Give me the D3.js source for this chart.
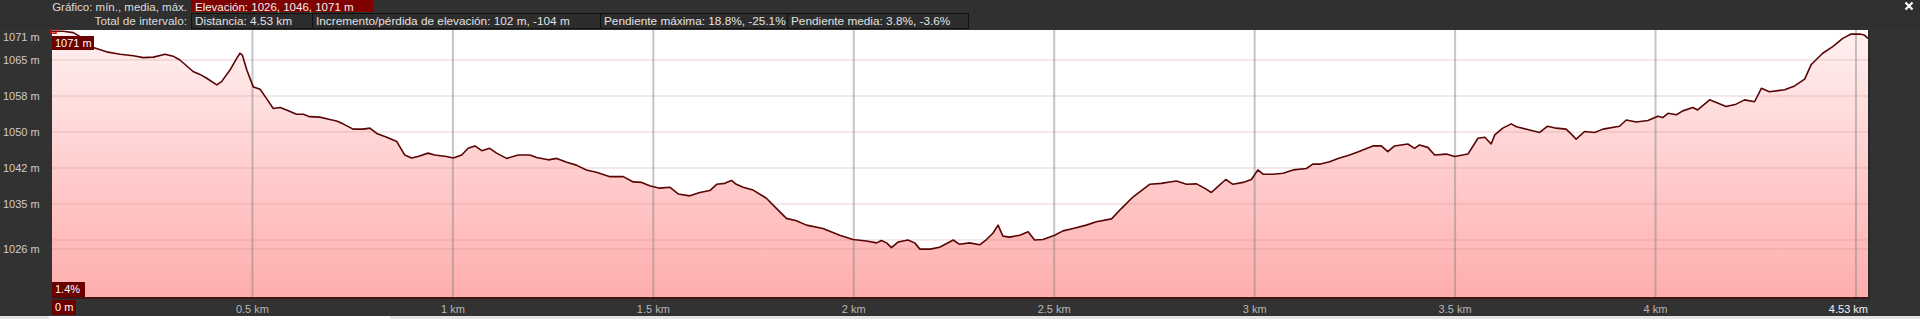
<!DOCTYPE html>
<html>
<head>
<meta charset="utf-8">
<script src="https://cdn.jsdelivr.net/npm/d3@7"></script>
<style>
  html, body { margin: 0; padding: 0; background: #323232; overflow: hidden; }
  svg { display: block; font-family: "Liberation Sans", Arial, sans-serif; }
</style>
</head>
<body>
<div id="chart"></div>
<script>
// ── Data ────────────────────────────────────────────────────────────────────
const distKm = [
  0, 0.028, 0.053, 0.078, 0.103, 0.136, 0.170, 0.203, 0.228, 0.253,
  0.282, 0.302, 0.319, 0.352, 0.369, 0.386, 0.411, 0.423, 0.444, 0.461,
  0.469, 0.475, 0.486, 0.502, 0.519, 0.535, 0.552, 0.569, 0.585, 0.610,
  0.627, 0.643, 0.668, 0.693, 0.710, 0.726, 0.751, 0.776, 0.793, 0.810,
  0.835, 0.860, 0.880, 0.897, 0.913, 0.938, 0.955, 0.984, 1.001, 1.022,
  1.038, 1.055, 1.072, 1.092, 1.109, 1.134, 1.163, 1.192, 1.209, 1.238,
  1.259, 1.284, 1.308, 1.333, 1.358, 1.392, 1.425, 1.450, 1.471, 1.491,
  1.516, 1.541, 1.562, 1.591, 1.616, 1.641, 1.658, 1.678, 1.695, 1.707,
  1.724, 1.749, 1.782, 1.807, 1.832, 1.857, 1.882, 1.923, 1.965, 1.998,
  2.032, 2.057, 2.069, 2.082, 2.094, 2.111, 2.135, 2.152, 2.165, 2.190,
  2.214, 2.239, 2.248, 2.264, 2.289, 2.314, 2.331, 2.347, 2.360, 2.372,
  2.389, 2.414, 2.435, 2.451, 2.472, 2.501, 2.522, 2.547, 2.580, 2.605,
  2.643, 2.668, 2.697, 2.738, 2.767, 2.788, 2.805, 2.830, 2.855, 2.875,
  2.892, 2.908, 2.928, 2.946, 2.971, 2.992, 3.008, 3.021, 3.046, 3.071,
  3.096, 3.129, 3.145, 3.162, 3.187, 3.208, 3.237, 3.262, 3.295, 3.316,
  3.332, 3.349, 3.382, 3.399, 3.411, 3.432, 3.449, 3.478, 3.499, 3.532,
  3.557, 3.574, 3.590, 3.599, 3.619, 3.640, 3.653, 3.686, 3.711, 3.731,
  3.752, 3.777, 3.792, 3.802, 3.823, 3.848, 3.869, 3.910, 3.927, 3.952,
  3.981, 4.006, 4.018, 4.031, 4.052, 4.068, 4.093, 4.105, 4.135, 4.176,
  4.201, 4.222, 4.247, 4.264, 4.284, 4.322, 4.347, 4.372, 4.388, 4.417,
  4.442, 4.467, 4.488, 4.509, 4.521, 4.530
];

const elevM = [
  1071.0, 1071.0, 1070.7, 1069.5, 1067.6, 1066.7, 1066.2, 1065.9, 1065.5, 1065.6,
  1066.2, 1065.8, 1065.0, 1062.6, 1062.0, 1061.2, 1059.8, 1060.5, 1062.9, 1065.4,
  1066.4, 1066.0, 1062.9, 1059.4, 1058.9, 1057.0, 1054.9, 1055.1, 1054.6, 1053.7,
  1053.7, 1053.2, 1053.1, 1052.6, 1052.3, 1051.7, 1050.6, 1050.6, 1050.8, 1049.7,
  1048.9, 1048.0, 1045.2, 1044.6, 1044.9, 1045.6, 1045.2, 1044.9, 1044.6, 1045.2,
  1046.6, 1047.1, 1046.1, 1046.6, 1045.6, 1044.5, 1045.2, 1045.2, 1044.7, 1044.2,
  1044.5, 1043.7, 1043.1, 1042.1, 1041.6, 1040.7, 1040.7, 1039.6, 1039.5, 1038.8,
  1038.3, 1038.5, 1037.1, 1036.7, 1037.4, 1037.8, 1039.1, 1039.3, 1039.9, 1039.1,
  1038.5, 1037.9, 1036.2, 1034.1, 1032.0, 1031.5, 1030.6, 1029.9, 1028.5, 1027.6,
  1027.3, 1026.9, 1027.4, 1026.9, 1025.9, 1027.1, 1027.5, 1026.9, 1025.6, 1025.6,
  1026.0, 1027.1, 1027.5, 1026.6, 1026.9, 1026.5, 1027.6, 1028.9, 1030.6, 1028.3,
  1028.1, 1028.5, 1029.2, 1027.5, 1027.6, 1028.5, 1029.4, 1029.9, 1030.6, 1031.3,
  1031.9, 1034.1, 1036.5, 1039.1, 1039.3, 1039.6, 1039.8, 1039.1, 1039.2, 1038.3,
  1037.4, 1038.6, 1040.1, 1039.1, 1039.5, 1040.1, 1042.1, 1041.2, 1041.2, 1041.4,
  1042.1, 1042.4, 1043.3, 1043.3, 1043.8, 1044.5, 1045.2, 1046.0, 1047.1, 1047.1,
  1045.9, 1047.1, 1047.5, 1046.6, 1047.3, 1046.8, 1045.2, 1045.4, 1044.9, 1045.4,
  1048.7, 1048.9, 1047.5, 1049.4, 1050.8, 1051.7, 1051.1, 1050.4, 1049.9, 1051.2,
  1050.8, 1050.6, 1049.4, 1048.5, 1050.1, 1049.9, 1050.6, 1051.2, 1052.5, 1052.1,
  1052.4, 1053.3, 1053.0, 1053.9, 1053.6, 1054.4, 1055.1, 1054.6, 1056.7, 1055.3,
  1055.8, 1056.7, 1056.3, 1059.1, 1058.4, 1058.8, 1059.6, 1061.0, 1064.0, 1066.4,
  1067.8, 1069.5, 1070.4, 1070.4, 1070.2, 1069.5
];

const yGridValues = [1065, 1057.5, 1050, 1042.5, 1035, 1027.5];
const yGridLabels = ["1065 m", "1058 m", "1050 m", "1042 m", "1035 m", ""];

const xGridValues = [0.5, 1, 1.5, 2, 2.5, 3, 3.5, 4, 4.5];
const xGridLabels = ["0.5 km", "1 km", "1.5 km", "2 km", "2.5 km", "3 km", "3.5 km", "4 km", ""];

const totalKm = 4.53;
const startGrade = "1.4%";

const headerTitle = "Gráfico: mín., media, máx.";
const elevationStats = [1026, 1046, 1071];
const intervalTitle = "Total de intervalo:";
const intervalItems = [
  "Distancia: 4.53 km",
  "Incremento/pérdida de elevación: 102 m, -104 m",
  "Pendiente máxima: 18.8%, -25.1%",
  "Pendiente media: 3.8%, -3.6%"
];

// ── Layout ──────────────────────────────────────────────────────────────────
const W = 1920, H = 319;
const plot = { left: 52, right: 1868, top: 30, bottom: 297 };

const points = distKm.map((d, i) => ({ d, e: elevM[i] }));

const x = d3.scaleLinear().domain([0, totalKm]).range([plot.left, plot.right]);
const y = d3.scaleLinear().domain([1015.625, 1071.25]).range([plot.bottom, plot.top]);

const svg = d3.select("#chart").append("svg").attr("width", W).attr("height", H);
svg.append("rect").attr("width", W).attr("height", H).attr("fill", "#323232");

const defs = svg.append("defs");
const grad = defs.append("linearGradient").attr("id", "fillGrad")
  .attr("gradientUnits", "userSpaceOnUse")
  .attr("x1", 0).attr("x2", 0).attr("y1", plot.top).attr("y2", plot.bottom);
grad.append("stop").attr("offset", "0%").attr("stop-color", "#fff1f1");
grad.append("stop").attr("offset", "100%").attr("stop-color", "#ffadad");

defs.append("clipPath").attr("id", "plotClip").append("rect")
  .attr("x", plot.left).attr("y", plot.top)
  .attr("width", plot.right - plot.left).attr("height", plot.bottom - plot.top);

// ── Plot background + area ──────────────────────────────────────────────────
svg.append("rect")
  .attr("x", plot.left).attr("y", plot.top)
  .attr("width", plot.right - plot.left).attr("height", plot.bottom - plot.top)
  .attr("fill", "#ffffff");

const plotLayer = svg.append("g").attr("clip-path", "url(#plotClip)");

plotLayer.append("path")
  .datum(points)
  .attr("fill", "url(#fillGrad)")
  .attr("d", d3.area().x(p => x(p.d)).y0(plot.bottom).y1(p => y(p.e)));

// ── Grid ────────────────────────────────────────────────────────────────────
const minElev = d3.min(elevM), maxElev = d3.max(elevM);

plotLayer.selectAll("line.hgrid")
  .data(yGridValues.concat([minElev])).join("line")
  .attr("class", "hgrid")
  .attr("x1", plot.left).attr("x2", plot.right)
  .attr("y1", d => y(d)).attr("y2", d => y(d))
  .attr("stroke", "#c88c8c").attr("stroke-opacity", 0.2).attr("stroke-width", 2);

plotLayer.selectAll("line.vgrid")
  .data(xGridValues).join("line")
  .attr("class", "vgrid")
  .attr("x1", d => x(d)).attr("x2", d => x(d))
  .attr("y1", plot.top).attr("y2", plot.bottom)
  .attr("stroke", "#808080").attr("stroke-opacity", 0.45).attr("stroke-width", 2);

// ── Profile line ────────────────────────────────────────────────────────────
plotLayer.append("path")
  .datum(points)
  .attr("fill", "none")
  .attr("stroke", "#5a0505")
  .attr("stroke-width", 1.6)
  .attr("stroke-linejoin", "round")
  .attr("d", d3.line().x(p => x(p.d)).y(p => y(p.e)));

// plot borders
svg.append("line").attr("x1", plot.left).attr("x2", plot.right + 1)
  .attr("y1", plot.bottom + 1).attr("y2", plot.bottom + 1)
  .attr("stroke", "#3e1616").attr("stroke-width", 2);
svg.append("line").attr("x1", plot.right + 1).attr("x2", plot.right + 1)
  .attr("y1", plot.top).attr("y2", plot.bottom + 2)
  .attr("stroke", "#2a2a2a").attr("stroke-width", 2);

// max marker
const maxPoint = points.find(p => p.e === maxElev);
svg.append("rect")
  .attr("x", x(maxPoint.d) - 1).attr("y", y(maxPoint.e) - 3)
  .attr("width", 5).attr("height", 5)
  .attr("fill", "none").attr("stroke", "#d01010").attr("stroke-width", 1.5);

// ── Y labels ────────────────────────────────────────────────────────────────
const yLabels = yGridValues.map((v, i) => ({ v, t: yGridLabels[i] })).filter(l => l.t)
  .concat([{ v: minElev, t: Math.round(minElev) + " m" }, { v: maxElev, t: Math.round(maxElev) + " m" }]);

svg.selectAll("text.ylab")
  .data(yLabels).join("text")
  .attr("class", "ylab")
  .attr("x", 3)
  .attr("y", d => Math.max(y(d.v), 37))
  .attr("dy", "0.35em")
  .attr("font-size", 11)
  .attr("fill", "#d2caca")
  .text(d => d.t);

// ── X labels ────────────────────────────────────────────────────────────────
svg.selectAll("text.xlab")
  .data(xGridValues.map((v, i) => ({ v, t: xGridLabels[i] })).filter(l => l.t)).join("text")
  .attr("class", "xlab")
  .attr("x", d => x(d.v))
  .attr("y", 309)
  .attr("dy", "0.35em")
  .attr("text-anchor", "middle")
  .attr("font-size", 11)
  .attr("fill", "#b8b8b8")
  .text(d => d.t);

svg.append("text")
  .attr("x", x(totalKm)).attr("y", 309).attr("dy", "0.35em")
  .attr("text-anchor", "end").attr("font-size", 11).attr("fill", "#f4f4f4")
  .text(totalKm + " km");

// ── Dark red tags ───────────────────────────────────────────────────────────
function tag(px, py, w, h, label) {
  svg.append("rect").attr("x", px).attr("y", py).attr("width", w).attr("height", h).attr("fill", "#6a0000");
  svg.append("text").attr("x", px + 3).attr("y", py + h / 2).attr("dy", "0.35em")
    .attr("font-size", 11).attr("fill", "#ffffff").text(label);
}
tag(x(maxPoint.d), 36, 42, 14, Math.round(maxElev) + " m");
tag(x(0), 282, 33, 15, startGrade);
tag(x(0), 300, 24, 15, "0 m");

// ── Header ──────────────────────────────────────────────────────────────────
svg.append("rect").attr("x", 0).attr("y", 0).attr("width", W).attr("height", 29).attr("fill", "#303030");

svg.append("text").attr("x", 187).attr("y", 10.5).attr("text-anchor", "end")
  .attr("font-size", 11.5).attr("fill", "#dcdcdc").text(headerTitle);
svg.append("rect").attr("x", 191).attr("y", 0).attr("width", 182).attr("height", 12).attr("fill", "#7e0000");
svg.append("text").attr("x", 195).attr("y", 10.5)
  .attr("font-size", 11.5).attr("fill", "#f0f0f0")
  .text("Elevación: " + elevationStats.join(", ") + " m");

svg.append("text").attr("x", 187).attr("y", 25).attr("text-anchor", "end")
  .attr("font-size", 11.8).attr("fill", "#dcdcdc").text(intervalTitle);

const cellEdges = [191, 312, 600, 787, 968];
const cells = svg.selectAll("g.cell")
  .data(intervalItems).join("g").attr("class", "cell");
cells.append("rect")
  .attr("x", (d, i) => cellEdges[i] + 0.5).attr("y", 13.5)
  .attr("width", (d, i) => cellEdges[i + 1] - cellEdges[i]).attr("height", 15)
  .attr("fill", "#2c2c2c").attr("stroke", "#111111").attr("stroke-width", 1);
cells.append("text")
  .attr("x", (d, i) => cellEdges[i] + 4).attr("y", 25)
  .attr("font-size", 11.8).attr("fill", "#e2e2e2")
  .text(d => d);

// close cross
const cx = 1909, cy = 6;
svg.append("path")
  .attr("d", `M${cx - 3.5},${cy - 3.5}L${cx + 3.5},${cy + 3.5}M${cx + 3.5},${cy - 3.5}L${cx - 3.5},${cy + 3.5}`)
  .attr("stroke", "#ffffff").attr("stroke-width", 2.2);

// page strip at bottom
svg.append("rect").attr("x", 0).attr("y", 316).attr("width", W).attr("height", 3).attr("fill", "#e4e4e4");
svg.append("rect").attr("x", 49).attr("y", 316).attr("width", 341).attr("height", 3).attr("fill", "#ffffff");
</script>
</body>
</html>
